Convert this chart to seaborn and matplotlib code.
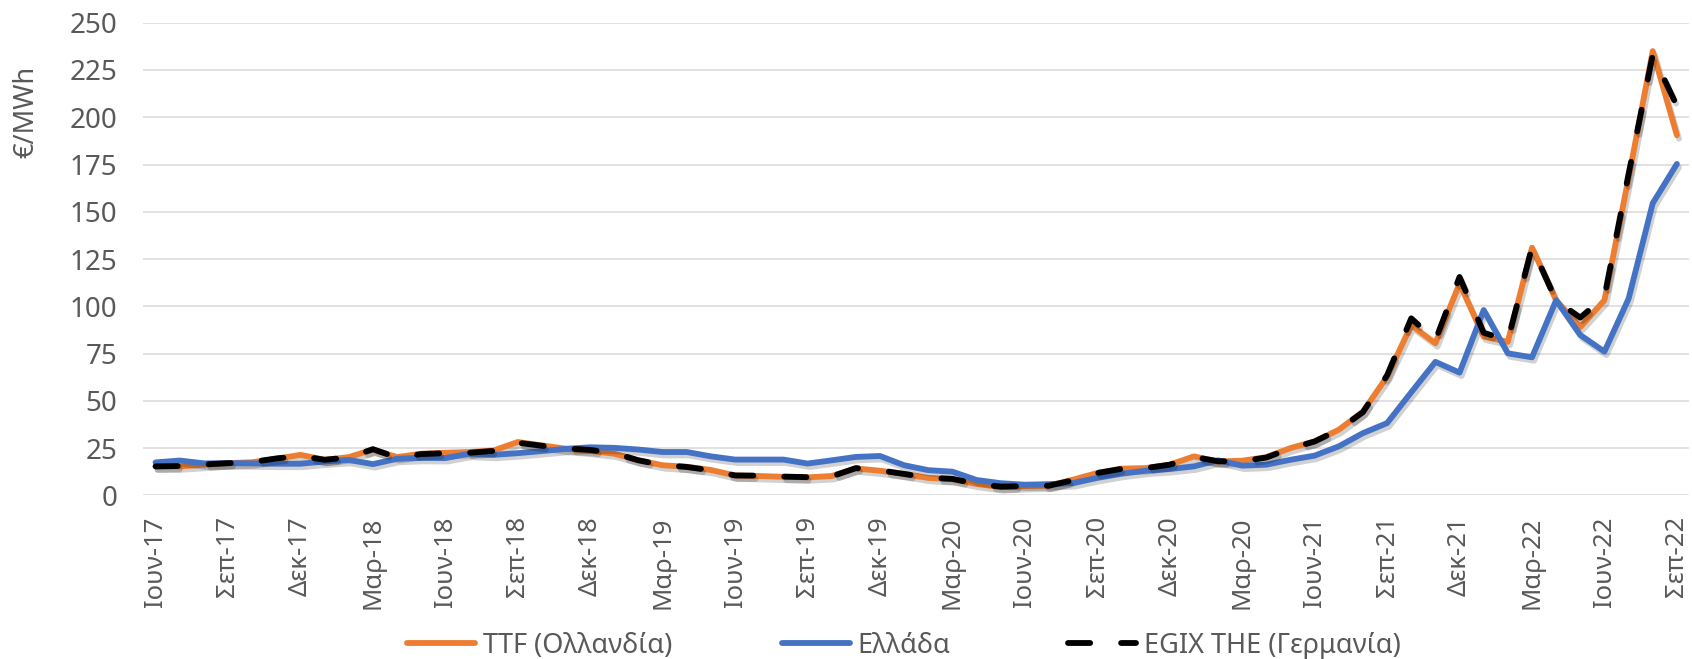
import numpy as np
import pandas as pd
import seaborn as sns
import matplotlib.pyplot as plt
import matplotlib.patheffects as pe
from matplotlib.lines import Line2D

# monthly prices, Jun-17 .. Sep-22 (EUR/MWh)
ttf = [15.3, 15.3, 16.2, 17.0, 17.5, 19.3, 21.4, 18.8, 20.2, 24.2,
       20.2, 22.0, 22.5, 22.9, 23.7, 28.2, 26.4, 24.6, 23.5, 22.0,
       18.5, 15.9, 15.1, 13.4, 10.5, 10.2, 9.8, 9.5, 10.2, 14.2,
       13.0, 11.3, 9.2, 8.5, 6.0, 4.3, 4.9, 5.1, 8.3, 11.8,
       14.1, 14.4, 16.2, 20.6, 17.9, 18.3, 20.2, 25.0, 28.5, 34.7,
       44.3, 62.8, 90.0, 80.4, 112.0, 83.9, 81.2, 131.0, 103.2, 89.0,
       103.2, 168.0, 235.0, 190.5]
greece = [17.4, 18.4, 16.9, 17.0, 16.9, 16.7, 16.7, 17.9, 18.7, 16.5,
          19.3, 19.8, 19.7, 22.0, 21.4, 22.3, 23.4, 24.6, 25.4, 25.1,
          24.2, 22.9, 22.9, 20.6, 18.9, 18.9, 18.9, 16.8, 18.5, 20.3,
          20.8, 15.9, 13.3, 12.5, 8.1, 6.4, 5.6, 5.9, 6.5, 9.2,
          11.4, 13.0, 13.9, 15.3, 18.5, 15.7, 16.2, 18.8, 21.0, 25.9,
          32.9, 38.2, 54.5, 70.6, 64.9, 98.0, 75.1, 73.0, 103.2, 84.8,
          76.0, 104.0, 154.5, 175.3]
egix = [15.3, 15.5, 16.3, 17.0, 17.6, 19.5, 20.8, 18.8, 20.0, 24.4,
        20.0, 21.8, 22.3, 22.5, 23.5, 27.8, 26.2, 24.8, 24.0, 22.3,
        18.5, 16.0, 15.0, 13.2, 10.5, 10.4, 9.9, 9.6, 10.0, 14.4,
        13.2, 11.3, 9.3, 8.7, 6.0, 4.6, 4.9, 5.1, 8.0, 11.8,
        14.0, 14.4, 16.2, 20.3, 18.0, 18.0, 20.0, 24.8, 28.5, 34.7,
        44.0, 63.5, 93.6, 82.0, 115.5, 86.0, 82.0, 131.3, 103.0, 94.0,
        105.0, 170.0, 233.0, 206.0]

tick_labels = ["Ιουν-17", "Σεπ-17", "Δεκ-17", "Μαρ-18", "Ιουν-18", "Σεπ-18",
               "Δεκ-18", "Μαρ-19", "Ιουν-19", "Σεπ-19", "Δεκ-19", "Μαρ-20",
               "Ιουν-20", "Σεπ-20", "Δεκ-20", "Μαρ-20", "Ιουν-21", "Σεπ-21",
               "Δεκ-21", "Μαρ-22", "Ιουν-22", "Σεπ-22"]

names = ["TTF (Ολλανδία)", "Ελλάδα", "EGIX THE (Γερμανία)"]
colors = ["#ED7D31", "#4472C4", "black"]

df = pd.DataFrame({"month": np.arange(len(ttf)), names[0]: ttf,
                   names[1]: greece, names[2]: egix})

sns.set_style("white")
plt.rcParams["font.family"] = ["Noto Sans", "DejaVu Sans"]
txt = "#595959"

fig = plt.figure(figsize=(16.92, 6.59), dpi=100)
ax = fig.add_axes([0.0848, 0.2484, 0.9134, 0.7171])

lw = 4.2
dash = (0, (3.8, 5.3))
shadow = [pe.SimpleLineShadow(offset=(1.5, -2.5), shadow_color="black", alpha=0.18),
          pe.Normal()]

for name, c in zip(names, colors):
    ls = dash if name.startswith("EGIX") else "-"
    sns.lineplot(data=df, x="month", y=name, color=c, lw=lw, linestyle=ls,
                 dash_capstyle="round", solid_capstyle="round", ax=ax)
for line in ax.get_lines():
    line.set_path_effects(shadow)

ax.set_xlim(-0.5, len(ttf) - 0.5)
ax.set_ylim(0, 250)
ax.set_yticks(np.arange(0, 251, 25))
ax.set_xticks(np.arange(0, len(ttf), 3))
ax.set_xticklabels(tick_labels, rotation=90)
ax.tick_params(axis="y", length=0, pad=19, labelsize=20, labelcolor=txt)
ax.tick_params(axis="x", length=0, pad=15, labelsize=18.5, labelcolor=txt)
ax.set_xlabel("")
ax.set_ylabel("")
ax.yaxis.grid(True, color="#D9D9D9", lw=1.1)
ax.xaxis.grid(False)
for s in ax.spines.values():
    s.set_visible(False)

fig.text(26 / 1692, 1 - 112 / 659, "€/MWh", rotation=90, ha="center",
         va="center", fontsize=19.5, color=txt)

# legend entries placed one by one like the Excel legend
starts = [407, 782, 1068]
for name, c, x0 in zip(names, colors, starts):
    ls = dash if name.startswith("EGIX") else "-"
    h = Line2D([], [], color=c, lw=lw, linestyle=ls,
               dash_capstyle="round", solid_capstyle="round")
    fig.legend([h], [name], loc="center left", bbox_to_anchor=(x0 / 1692, 0.02),
               frameon=False, fontsize=19.5, labelcolor=txt, handlelength=2.5,
               handletextpad=0.3, borderpad=0, borderaxespad=0)

fig.savefig("out.png", dpi=100)
